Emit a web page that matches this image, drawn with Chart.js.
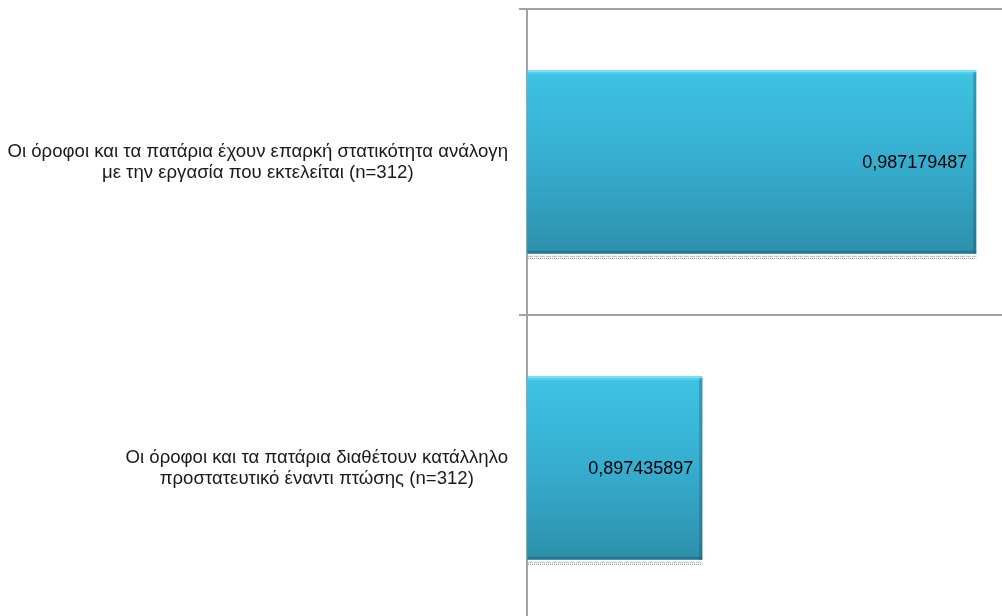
<!DOCTYPE html>
<html>
<head>
<meta charset="utf-8">
<script src="https://cdn.jsdelivr.net/npm/chart.js@4/dist/chart.umd.min.js"></script>
<style>
  html, body { margin: 0; padding: 0; background: #fff; overflow: hidden; }
  #wrap { width: 1002px; height: 622px; position: relative; }
</style>
</head>
<body>
<div id="wrap"><canvas id="chart"></canvas></div>
<script>
const categories = [
  ["Οι όροφοι και τα πατάρια έχουν επαρκή στατικότητα ανάλογη", "με την εργασία που εκτελείται (n=312)"],
  ["Οι όροφοι και τα πατάρια διαθέτουν κατάλληλο", "προστατευτικό έναντι πτώσης (n=312)"]
];
const values = [0.987179487, 0.897435897];
const axisMin = 0.84;
const axisMax = 0.9956;

const FONT = "'Liberation Sans', Arial, sans-serif";
const fmtVal = (v) => String(v).replace(".", ",");

// bar fill: light cyan at the top, deeper teal at the bottom
function barFill(c) {
  const chart = c.chart;
  const y = chart.scales.y;
  if (!chart.chartArea || !y || c.dataIndex === undefined) return "#36afd0";
  const mid = y.getPixelForValue(c.dataIndex);
  const half = (y.height / categories.length) * 0.3;
  if (!isFinite(mid) || !isFinite(half)) return "#36afd0";
  const g = chart.ctx.createLinearGradient(0, mid - half, 0, mid + half);
  g.addColorStop(0, "#3ec3e3");
  g.addColorStop(0.5, "#36adcf");
  g.addColorStop(1, "#2d90ab");
  return g;
}

const barDecor = {
  id: "barDecor",
  afterDatasetsDraw(chart) {
    const ctx = chart.ctx;
    const meta = chart.getDatasetMeta(0);
    meta.data.forEach((bar, i) => {
      const p = bar.getProps(["x", "y", "base", "height"], true);
      const top = p.y - p.height / 2, bot = p.y + p.height / 2;
      const left = Math.max(p.base, chart.chartArea.left + 1), right = p.x;
      ctx.save();
      // top highlight
      ctx.fillStyle = "#7fe0f4";
      ctx.fillRect(left, top, right - left, 2);
      ctx.fillStyle = "#52d0ec";
      ctx.fillRect(left, top + 2, right - left, 2);
      // right & bottom shade
      ctx.fillStyle = "rgba(20,80,100,0.35)";
      ctx.fillRect(right - 3, top + 2, 3, bot - top - 2);
      ctx.fillRect(left, bot - 3, right - left, 3);
      // dotted reflection beneath the bar
      ctx.lineWidth = 1;
      ctx.strokeStyle = "#b8b8b8";
      ctx.setLineDash([5, 1]);
      ctx.beginPath();
      ctx.moveTo(left, bot + 2.5);
      ctx.lineTo(right, bot + 2.5);
      ctx.stroke();
      ctx.strokeStyle = "#8a8a8a";
      ctx.setLineDash([1, 1]);
      ctx.beginPath();
      ctx.moveTo(left, bot + 4.5);
      ctx.lineTo(right, bot + 4.5);
      ctx.stroke();
      ctx.setLineDash([]);
      // value label, inside end
      ctx.fillStyle = "#000";
      ctx.font = "18px " + FONT;
      ctx.textAlign = "right";
      ctx.textBaseline = "middle";
      ctx.fillText(fmtVal(values[i]), right - 9, p.y + 1);
      ctx.restore();
    });
  }
};

// category labels: each block centred on itself, right edge near the axis
const catLabels = {
  id: "catLabels",
  afterDraw(chart) {
    const ctx = chart.ctx;
    const y = chart.scales.y;
    const rightEdge = y.right - 19;
    const lh = 21;
    ctx.save();
    ctx.font = "18.6px " + FONT;
    ctx.fillStyle = "#1a1a1a";
    ctx.textAlign = "center";
    ctx.textBaseline = "middle";
    categories.forEach((lines, i) => {
      const widest = Math.max(...lines.map(l => ctx.measureText(l).width));
      const cx = rightEdge - widest / 2;
      const cy = y.getPixelForValue(i);
      const y0 = cy - (lines.length - 1) * lh / 2;
      lines.forEach((l, k) => ctx.fillText(l, cx, y0 + k * lh));
    });
    ctx.restore();
  }
};

new Chart(document.getElementById("chart"), {
  type: "bar",
  data: {
    labels: categories,
    datasets: [{
      data: values,
      backgroundColor: barFill,
      borderWidth: 0,
      categoryPercentage: 0.6,
      barPercentage: 1
    }]
  },
  options: {
    indexAxis: "y",
    responsive: true,
    maintainAspectRatio: false,
    animation: false,
    layout: { padding: { top: 9, right: 0, bottom: 1, left: 0 } },
    scales: {
      x: { display: false, min: axisMin, max: axisMax },
      y: {
        afterFit: (s) => { s.width = 527; },
        ticks: { display: false },
        grid: { color: "#a3a3a3", lineWidth: 2, tickLength: 8, offset: true },
        border: { color: "#a3a3a3", width: 2 }
      }
    },
    plugins: {
      legend: { display: false },
      tooltip: { enabled: false }
    }
  },
  plugins: [barDecor, catLabels]
});
</script>
</body>
</html>
